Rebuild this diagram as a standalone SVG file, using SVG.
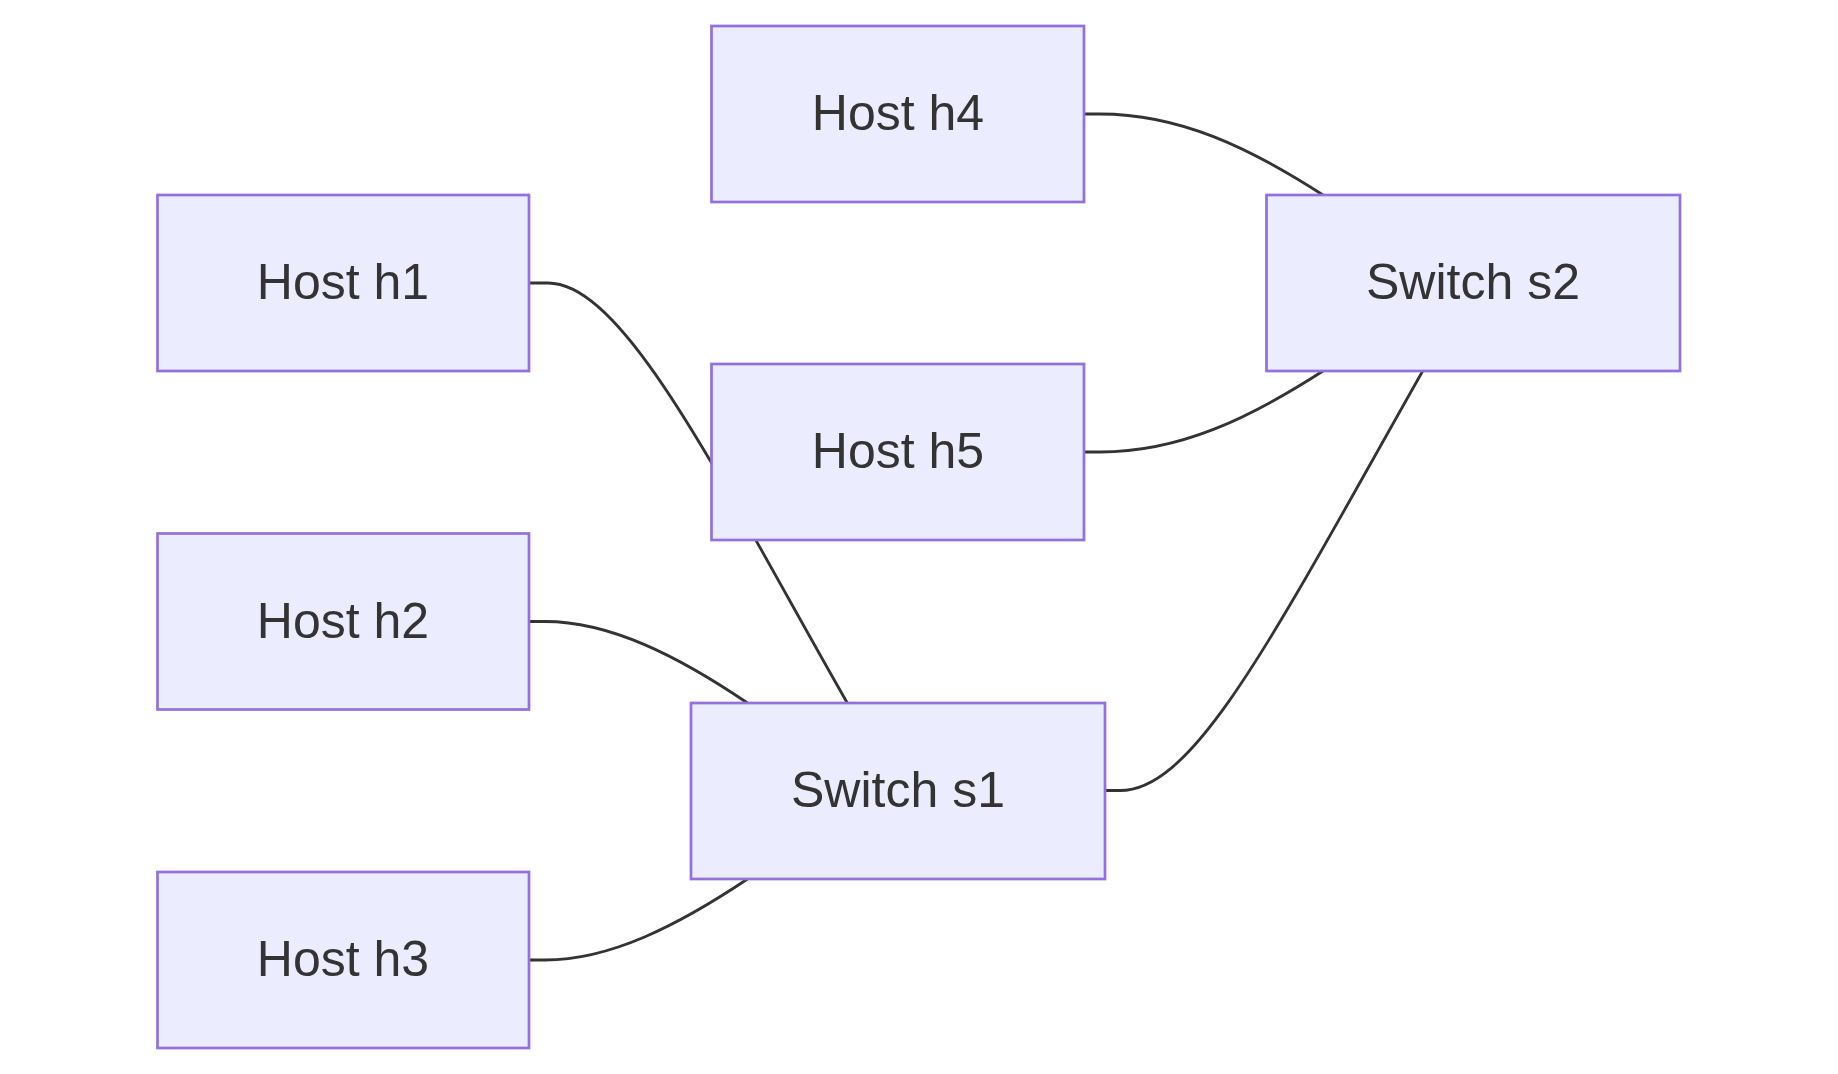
<svg xmlns="http://www.w3.org/2000/svg" width="1838" height="1074" viewBox="0 0 1838 1074">
<style>
.node rect{fill:#ECECFF;stroke:#9370DB;stroke-width:2.7}
.node text{font-family:"Liberation Sans",Arial,sans-serif;font-size:50px;fill:#333333;text-anchor:middle}
.edge{fill:none;stroke:#333333;stroke-width:2.8}
</style>
<rect width="1838" height="1074" fill="#ffffff"/>
<g id="connectors">
<path class="edge" d="M529.5,283 L548,283 C625,283 720,480 847.3,703"/>
<path class="edge" d="M529.5,621.5 L545,621.5 C610,621.5 678,656 747.5,703"/>
<path class="edge" d="M529.5,960 L545,960 C610,960 678,925.5 747.5,879"/>
<path class="edge" d="M1084.5,114 L1100,114 C1180,114 1250,148 1323,195"/>
<path class="edge" d="M1084.5,452 L1100,452 C1180,452 1250,418 1323,371"/>
<path class="edge" d="M1105,790.5 L1120,790.5 C1195,790.5 1272.7,636.5 1422.7,371"/>
</g>
<g id="h4" class="node"><rect x="711.5" y="26" width="372.5" height="176"/><text x="898" y="130">Host h4</text></g>
<g id="h1" class="node"><rect x="157.5" y="195" width="371.5" height="176"/><text x="343" y="299">Host h1</text></g>
<g id="s2" class="node"><rect x="1266.5" y="195" width="413.5" height="176"/><text x="1473" y="299">Switch s2</text></g>
<g id="h5" class="node"><rect x="711.5" y="364" width="372.5" height="176"/><text x="898" y="468">Host h5</text></g>
<g id="h2" class="node"><rect x="157.5" y="533.5" width="371.5" height="176"/><text x="343" y="637.5">Host h2</text></g>
<g id="s1" class="node"><rect x="691" y="703" width="414" height="176"/><text x="898" y="807">Switch s1</text></g>
<g id="h3" class="node"><rect x="157.5" y="872" width="371.5" height="176"/><text x="343" y="976">Host h3</text></g>
</svg>
